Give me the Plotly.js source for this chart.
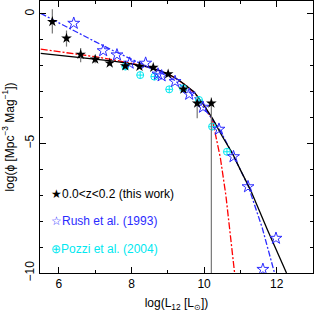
<!DOCTYPE html>
<html>
<head>
<meta charset="utf-8">
<script src="https://cdn.plot.ly/plotly-3.0.1.min.js"></script>
<style>html,body{margin:0;padding:0;background:#fff;}#chart{width:314px;height:319px;}</style>
</head>
<body>
<div id="chart"></div>
<script>
// This work: 0.0<z<0.2
const thisLogL = [5.82, 6.21, 6.60, 7.00, 7.40, 7.83, 8.22, 8.60, 9.01, 9.43, 9.81, 10.20];
const thisPhi  = [-0.30, -0.94, -1.56, -1.75, -1.90, -2.01, -2.03, -2.07, -2.32, -2.91, -3.45, -3.45];
const thisErrUp   = [0.48, 0.30, 0.25, 0.15, 0.10, 0.06, 0.05, 0.05, 0.05, 0.08, 0.05, 0.22];
const thisErrDown = [0.45, 0.32, 0.30, 0.15, 0.10, 0.06, 0.05, 0.05, 0.05, 0.08, 0.58, 7.00];

// Rush et al. (1993)
const rushLogL = [6.41, 7.22, 7.60, 7.95, 8.39, 8.73, 8.83, 9.20, 9.59, 9.97, 10.41, 10.81, 11.21, 11.62, 11.98];
const rushPhi  = [-0.36, -1.42, -1.58, -1.90, -1.90, -2.32, -2.39, -2.61, -3.10, -3.60, -4.45, -5.51, -6.67, -9.86, -8.66];

// Pozzi et al. (2004)
const pozziLogL = [7.83, 8.24, 8.63, 9.04, 9.42, 9.86, 10.22, 10.63];
const pozziPhi  = [-2.03, -2.36, -2.42, -2.91, -2.87, -3.32, -4.35, -5.32];

// Fitted curves
const fitThisX = [5.5, 6.0, 6.5, 7.0, 7.5, 8.0, 8.5, 8.8, 9.03, 9.3, 9.5, 9.72, 9.99, 10.23, 10.5, 10.78, 11.0, 11.28, 11.75, 12.27];
const fitThisY = [-1.52, -1.59, -1.66, -1.73, -1.82, -1.93, -2.06, -2.20, -2.33, -2.55, -2.75, -3.00, -3.51, -4.03, -4.72, -5.38, -6.02, -6.80, -8.35, -10.0];

const fitRedX = [5.5, 6.0, 6.5, 7.0, 7.5, 8.0, 8.5, 9.0, 9.5, 9.8, 10.0, 10.23, 10.34, 10.45, 10.6, 10.72, 10.84];
const fitRedY = [-1.36, -1.45, -1.55, -1.65, -1.77, -1.90, -2.05, -2.30, -2.75, -3.15, -3.55, -4.09, -4.83, -5.57, -7.0, -8.4, -10.0];

const fitRushX = [5.5, 6.0, 6.5, 7.0, 7.5, 8.0, 8.5, 9.0, 9.21, 9.63, 9.9, 10.41, 10.82, 11.21, 11.6, 11.94];
const fitRushY = [0.02, -0.35, -0.71, -1.07, -1.42, -1.76, -2.07, -2.40, -2.58, -3.06, -3.45, -4.41, -5.51, -6.62, -8.25, -10.0];

const legendLabels = ['\u2605', '0.0<z<0.2 (this work)', '\u2606', 'Rush et al. (1993)', '\u2295', 'Pozzi et al. (2004)'];

const FONT = 'Liberation Sans, Arial, Helvetica, sans-serif';
const BLUE = '#2b2bff';
const CYAN = '#00e8f0';

const traces = [
  {x: fitRedX, y: fitRedY, mode: 'lines', line: {color: '#ff0000', width: 1.3, dash: '7px,2px,2px,2px'}, hoverinfo: 'skip'},
  {x: fitRushX, y: fitRushY, mode: 'lines', line: {color: BLUE, width: 1.3, dash: '6px,2px,2px,2px'}, hoverinfo: 'skip'},
  {x: fitThisX, y: fitThisY, mode: 'lines', line: {color: '#000', width: 1.3}, hoverinfo: 'skip'},
  {x: pozziLogL, y: pozziPhi, mode: 'markers', marker: {symbol: 'circle-cross-open', size: 7, color: CYAN, line: {width: 1}}},
  {x: rushLogL, y: rushPhi, mode: 'markers', marker: {symbol: 'star-open', size: 9, color: BLUE, line: {width: 1}}},
  {x: thisLogL, y: thisPhi, mode: 'markers', marker: {symbol: 'star', size: 8, color: '#000'},
   error_y: {type: 'data', symmetric: false, array: thisErrUp, arrayminus: thisErrDown, color: '#777', thickness: 1.2, width: 0}}
];

const axisCommon = {
  showline: true, linecolor: '#000', linewidth: 1, mirror: 'allticks',
  ticks: 'inside', ticklen: 6, tickcolor: '#000', tickwidth: 1,
  showgrid: false, zeroline: false,
  tickfont: {family: FONT, size: 12, color: '#000'}
};

const layout = {
  width: 314, height: 319,
  margin: {l: 40, r: 1, t: 1, b: 46},
  paper_bgcolor: '#fff', plot_bgcolor: '#fff',
  showlegend: false,
  xaxis: Object.assign({}, axisCommon, {
    range: [5.48, 13.0], tickvals: [6, 8, 10, 12], ticktext: ['6', '8', '10', '12'],
    minor: {dtick: 1, tick0: 0, ticks: 'inside', ticklen: 3, tickcolor: '#000'},
    title: {text: 'log(L<sub>12</sub> [L<sub>\u2299</sub>])', font: {family: FONT, size: 12, color: '#000'}, standoff: 8}
  }),
  yaxis: Object.assign({}, axisCommon, {
    range: [-10, 0.5], tickvals: [0, -5, -10], ticktext: ['0', '\u22125', '\u221210'], tickangle: -90,
    minor: {dtick: 1, tick0: 0, ticks: 'inside', ticklen: 3, tickcolor: '#000'},
    title: {text: 'log(\u03d5 [Mpc<sup>\u22123</sup> Mag<sup>\u22121</sup>])', font: {family: FONT, size: 12, color: '#000'}, standoff: 6}
  }),
  annotations: [
    {x: 5.72, y: -6.95, xref: 'x', yref: 'y', xanchor: 'left', yanchor: 'middle', showarrow: false,
     text: legendLabels[0] + legendLabels[1], font: {family: FONT, size: 12, color: '#000'}},
    {x: 5.72, y: -7.99, xref: 'x', yref: 'y', xanchor: 'left', yanchor: 'middle', showarrow: false,
     text: legendLabels[2] + legendLabels[3], font: {family: FONT, size: 12, color: BLUE}},
    {x: 5.72, y: -9.07, xref: 'x', yref: 'y', xanchor: 'left', yanchor: 'middle', showarrow: false,
     text: legendLabels[4] + legendLabels[5], font: {family: FONT, size: 12, color: CYAN}}
  ]
};

Plotly.newPlot('chart', traces, layout, {displayModeBar: false, staticPlot: true});
</script>
</body>
</html>
